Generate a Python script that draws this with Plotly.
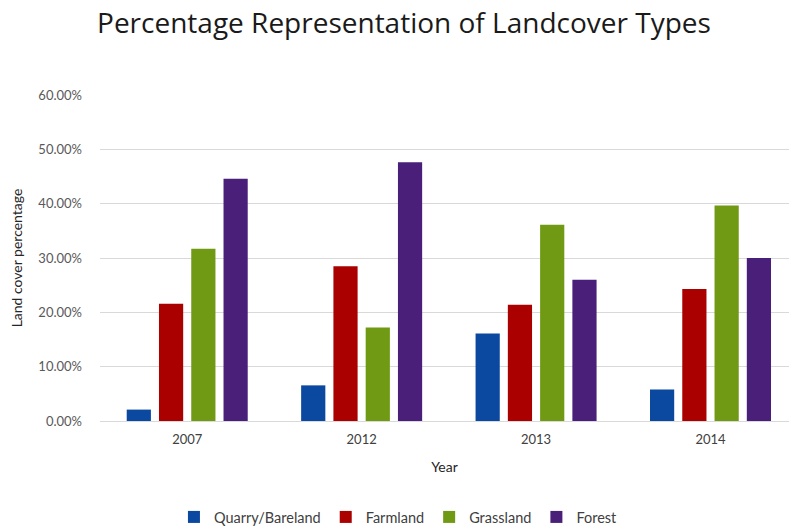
import plotly.graph_objects as go

years = ["2007", "2012", "2013", "2014"]
series_names = ["Quarry/Bareland", "Farmland", "Grassland", "Forest"]
quarry = [0.021, 0.0656, 0.161, 0.058]
farmland = [0.216, 0.285, 0.214, 0.243]
grassland = [0.317, 0.172, 0.361, 0.3965]
forest = [0.446, 0.476, 0.260, 0.300]
colors = ["#0B48A0", "#AA0000", "#709A14", "#4A1F7A"]

fig = go.Figure()
for name, vals, col in zip(series_names, [quarry, farmland, grassland, forest], colors):
    fig.add_trace(go.Bar(x=years, y=vals, name=name, marker=dict(color=col, line=dict(width=0))))

font_family = "Lato, 'Open Sans', sans-serif"
fig.update_layout(
    width=789, height=527,
    margin=dict(l=100, r=0, t=95, b=106),
    paper_bgcolor="white", plot_bgcolor="white",
    barmode="group", bargap=0.26, bargroupgap=0.25,
    font=dict(family=font_family, color="#595959", size=13),
    title=dict(text="Percentage Representation of Landcover Types",
               x=0.512, xanchor="center", xref="container",
               y=1 - 23 / 527, yanchor="middle", yref="container",
               font=dict(size=28, color="#1a1a1a", family="'Open Sans', sans-serif")),
    xaxis=dict(title=dict(text="Year", font=dict(size=14, color="#262626"), standoff=16),
               range=[-0.5, 3.45], showgrid=False, ticks="", showline=False,
               ticklabelstandoff=9,
               tickfont=dict(size=13, color="#404040")),
    yaxis=dict(title=dict(text="Land cover percentage", font=dict(size=14, color="#262626"), standoff=12),
               range=[0, 0.6], dtick=0.1, tickformat=".2%",
               showgrid=True, gridcolor="#D9D9D9", gridwidth=1,
               zeroline=True, zerolinecolor="#D9D9D9", zerolinewidth=1,
               ticklabelstandoff=17, tickfont=dict(size=13, color="#595959")),
    legend=dict(orientation="h", xref="container", x=0.505, xanchor="center",
                yref="container", y=10 / 527, yanchor="middle",
                font=dict(size=14.5, color="#404040"), itemwidth=30,
                traceorder="normal"),
    showlegend=True,
)
fig.write_html("out.html")
